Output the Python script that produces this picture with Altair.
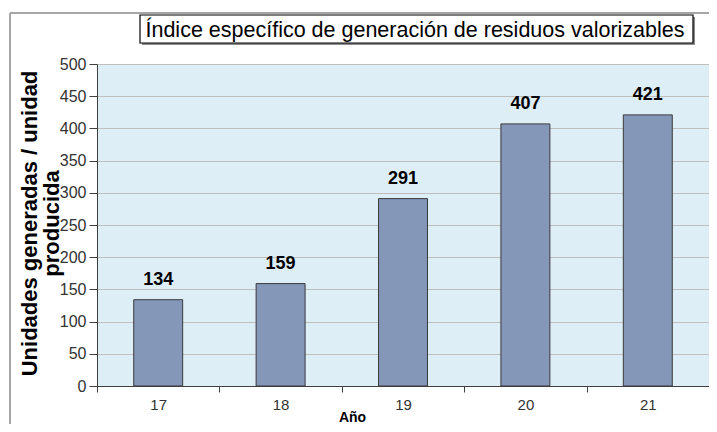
import altair as alt
import pandas as pd

years = ["17", "18", "19", "20", "21"]
values = [134, 159, 291, 407, 421]
y_ticks = [0, 50, 100, 150, 200, 250, 300, 350, 400, 450, 500]
title_text = "Índice específico de generación de residuos valorizables"
x_title = "Año"
y_title = ["Unidades generadas / unidad", "producida"]

df = pd.DataFrame({"year": years, "value": values})

W, H = 612, 322
FONT = "Liberation Sans, Arial, sans-serif"
AXC = "#404040"

x_enc = alt.X(
    "year:N", sort=years,
    scale=alt.Scale(paddingInner=0, paddingOuter=0),
    axis=alt.Axis(
        title=x_title, titleFont=FONT, titleFontSize=14, titleFontWeight="bold",
        titleColor="black", titleX=255, titleY=35, titleBaseline="alphabetic",
        titleAnchor="start", titleAlign="center",
        labelAngle=0, labelFont=FONT, labelFontSize=15, labelColor="#333333",
        labelPadding=5, tickBand="extent", tickSize=6, tickColor=AXC,
        domainColor=AXC, grid=False,
    ),
)
y_enc = alt.Y(
    "value:Q",
    scale=alt.Scale(domain=[0, 500], nice=False),
    axis=alt.Axis(
        values=y_ticks, title=y_title, titleFont=FONT, titleFontSize=22,
        titleFontWeight="bold", titleColor="black", titleAngle=270,
        titleX=-68, titleY=159, titleAlign="center", titleBaseline="middle",
        titleLineHeight=22, labelOverlap=False,
        labelFont=FONT, labelFontSize=16, labelColor="#333333", labelPadding=3,
        tickSize=8, tickColor=AXC, domainColor=AXC,
        grid=True, gridColor="#bfbfbf", gridWidth=1,
    ),
)

base = alt.Chart(df)
bars = base.mark_bar(
    color="#8497b8", stroke="#3a3a3a", strokeWidth=1,
    width=alt.RelativeBandSize(0.4),
).encode(x=x_enc, y=y_enc)

labels = base.mark_text(
    dy=-15, baseline="alphabetic", font=FONT, fontSize=18,
    fontWeight="bold", color="black",
).encode(x=x_enc, y=y_enc, text="value:Q")

deco = alt.Chart(alt.Data(values=[{"k": 0}]))
border_left = deco.mark_rule(color="#a6a6a6", strokeWidth=2).encode(
    x=alt.value(-87), y=alt.value(-51), y2=alt.value(372))
border_top = deco.mark_rule(color="#a6a6a6", strokeWidth=2).encode(
    x=alt.value(-87), x2=alt.value(625), y=alt.value(-51))
box_shadow = deco.mark_rect(fill="#8c8c8c").encode(
    x=alt.value(45), x2=alt.value(598), y=alt.value(-47), y2=alt.value(-19))
box = deco.mark_rect(fill="white", stroke="black", strokeWidth=1.2).encode(
    x=alt.value(43), x2=alt.value(596), y=alt.value(-49), y2=alt.value(-21))
title = deco.mark_text(
    text=title_text, font=FONT, fontSize=21.5, align="center",
    baseline="alphabetic", color="black",
).encode(x=alt.value(318), y=alt.value(-27))

chart = alt.layer(
    bars, labels, border_left, border_top, box_shadow, box, title
).properties(
    width=W, height=H,
    padding={"left": 89, "top": 56, "right": 0, "bottom": 38},
    autosize=alt.AutoSizeParams(type="none"),
).configure_view(fill="#ddeef7", stroke="transparent")

chart.save("out.html", embed_options={"renderer": "svg", "actions": False})
